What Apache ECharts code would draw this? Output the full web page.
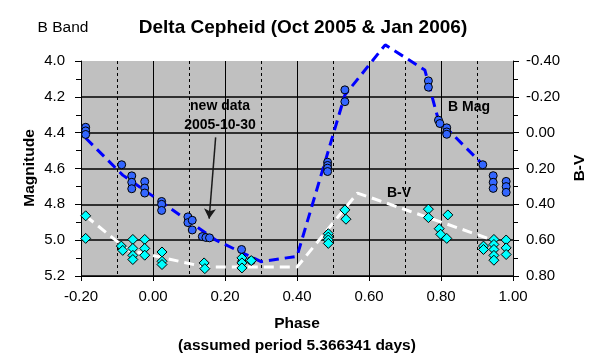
<!DOCTYPE html>
<html><head><meta charset="utf-8">
<script src="https://cdn.jsdelivr.net/npm/echarts@6/dist/echarts.min.js"></script>
<style>html,body{margin:0;padding:0;background:#fff}#c{width:607px;height:359px}</style>
</head><body><div id="c"></div>
<script>
// ---- data ----
const bMagPhase = [-0.187,-0.187,-0.187,-0.087,-0.059,-0.059,-0.059,-0.023,-0.023,-0.023,0.024,0.024,0.024,0.097,0.097,0.109,0.109,0.137,0.147,0.157,0.246,0.247,0.273,0.485,0.485,0.485,0.485,0.533,0.533,0.765,0.765,0.793,0.797,0.816,0.816,0.816,0.916,0.945,0.945,0.945,0.981,0.981,0.981];
const bMag      = [4.37,4.39,4.41,4.579,4.641,4.677,4.713,4.673,4.709,4.737,4.784,4.80,4.834,4.870,4.902,4.889,4.943,4.980,4.985,4.987,5.052,5.118,5.114,4.565,4.583,4.598,4.617,4.161,4.227,4.111,4.146,4.330,4.349,4.373,4.396,4.409,4.579,4.640,4.677,4.711,4.672,4.701,4.733];
const bvPhase = [-0.187,-0.187,-0.088,-0.084,-0.056,-0.056,-0.056,-0.056,-0.023,-0.023,-0.023,0.025,0.025,0.025,0.142,0.144,0.247,0.247,0.247,0.273,0.487,0.487,0.487,0.487,0.533,0.536,0.765,0.765,0.795,0.799,0.816,0.819,0.918,0.918,0.947,0.947,0.947,0.947,0.947,0.981,0.981,0.981];
const bv      = [0.464,0.590,0.633,0.657,0.596,0.646,0.685,0.708,0.596,0.646,0.684,0.666,0.718,0.736,0.727,0.759,0.699,0.727,0.755,0.714,0.564,0.583,0.599,0.618,0.431,0.483,0.427,0.474,0.536,0.567,0.590,0.459,0.633,0.652,0.596,0.624,0.652,0.685,0.712,0.599,0.643,0.680];
const bMagLinePhase = [-0.187,-0.084,0.175,0.30,0.40,0.533,0.645,0.755,0.793,0.917];
const bMagLine      = [4.43,4.637,5.0,5.12,5.09,4.19,3.91,4.05,4.33,4.58];
const bvLinePhase = [-0.187,-0.07,0.145,0.40,0.568,0.945];
const bvLine      = [0.465,0.655,0.75,0.75,0.337,0.60];
const xTickLabels = ['-0.20','0.00','0.20','0.40','0.60','0.80','1.00'];
const yTickLabels = ['4.0','4.2','4.4','4.6','4.8','5.0','5.2'];
const y2TickLabels = ['-0.40','-0.20','0.00','0.20','0.40','0.60','0.80'];
const xRange = [-0.2, 1.0];
const arrowFrom = [0.174, 4.426];
const arrowTo = [0.156, 4.88];

const F = 'Liberation Sans, Arial, sans-serif';
const zip = (a,b) => a.map((v,i)=>[v,b[i]]);
const lab = (arr,min,step) => v => arr[Math.round((v-min)/step)] || '';

const chart = echarts.init(document.getElementById('c'), null, {renderer:'canvas'});
function txt(x,y,text,size,bold,rot){
  return {type:'text', x:x, y:y, rotation:rot||0, z:100,
    style:{text:text, fill:'#000', font:(bold?'bold ':'')+size+'px '+F,
      align:'center', verticalAlign:'middle', textAlign:'center', textVerticalAlign:'middle'}};
}
chart.setOption({
  animation:false,
  backgroundColor:'#ffffff',
  grid:{left:81, top:61, width:432, height:215, show:true, backgroundColor:'#c0c0c0', borderWidth:0},
  xAxis:{type:'value', min:xRange[0], max:xRange[1], interval:0.2,
    axisLine:{show:true, onZero:false, lineStyle:{color:'#000', width:1}},
    axisTick:{show:true, inside:false, length:5, lineStyle:{color:'#000'}},
    minorTick:{show:false, splitNumber:2},
    minorSplitLine:{show:true, lineStyle:{color:'#000', width:1, type:[3,3]}},
    splitLine:{show:true, lineStyle:{color:'#000', width:1}},
    axisLabel:{formatter:lab(xTickLabels,-0.2,0.2), fontSize:15, fontFamily:F, color:'#000', margin:13}
  },
  yAxis:[
    {type:'value', min:4.0, max:5.2, interval:0.2, inverse:true, position:'left',
      axisLine:{show:true, onZero:false, lineStyle:{color:'#000', width:1}},
      axisTick:{show:true, inside:false, length:6, lineStyle:{color:'#000'}},
      minorTick:{show:true, splitNumber:2, length:5, lineStyle:{color:'#000'}},
      splitLine:{show:true, showMinLine:false, lineStyle:{color:'#000', width:1.5, type:'solid'}},
      axisLabel:{formatter:lab(yTickLabels,4.0,0.2), fontSize:15, fontFamily:F, color:'#000', margin:16}
    },
    {type:'value', min:-0.4, max:0.8, interval:0.2, inverse:true, position:'right',
      axisLine:{show:true, onZero:false, lineStyle:{color:'#000', width:1}},
      axisTick:{show:true, inside:false, length:6, lineStyle:{color:'#000'}},
      minorTick:{show:true, splitNumber:2, length:5, lineStyle:{color:'#000'}},
      splitLine:{show:false},
      axisLabel:{formatter:lab(y2TickLabels,-0.4,0.2), fontSize:15, fontFamily:F, color:'#000', margin:13}
    }
  ],
  series: [
    {name:'B Mag line', type:'line', yAxisIndex:0, data:zip(bMagLinePhase,bMagLine), symbol:'none', clip:false, z:2,
      lineStyle:{color:'#0000ff', width:3, type:[10,6]}},
    {name:'B-V line', type:'line', yAxisIndex:1, data:zip(bvLinePhase,bvLine), symbol:'none', clip:false, z:3,
      lineStyle:{color:'#ffffff', width:3, type:[10,6]}},
    {name:'B Mag', type:'scatter', yAxisIndex:0, data:zip(bMagPhase,bMag), symbol:'circle', symbolSize:8, z:4,
      itemStyle:{color:'#3366ff', borderColor:'#000', borderWidth:1, opacity:1},
      markLine:{silent:true, symbol:['none','arrow'], symbolSize:[9,10], label:{show:false},
        lineStyle:{color:'#1a1a1a', width:1.5, type:'solid'},
        data:[[{coord:arrowFrom},{coord:arrowTo}]]}},
    {name:'B-V', type:'scatter', yAxisIndex:1, data:zip(bvPhase,bv), symbol:'diamond', symbolSize:[10,10], z:5,
      itemStyle:{color:'#00ffff', borderColor:'#000', borderWidth:1, opacity:1}}
  ],
  graphic:[
    txt(303,28,'Delta Cepheid (Oct 2005 & Jan 2006)',19,true),
    txt(63,28,'B Band',15.5,false),
    txt(30,168,'Magnitude',15.5,true,Math.PI/2),
    txt(580,168,'B-V',15.5,true,Math.PI/2),
    txt(297,324,'Phase',15.5,true),
    txt(297,346,'(assumed period 5.366341 days)',15.5,true),
    txt(220,106,'new data',14,true),
    txt(220,125,'2005-10-30',14,true),
    txt(469,107,'B Mag',14,true),
    txt(399,193,'B-V',14,true)
  ]
});
</script></body></html>
